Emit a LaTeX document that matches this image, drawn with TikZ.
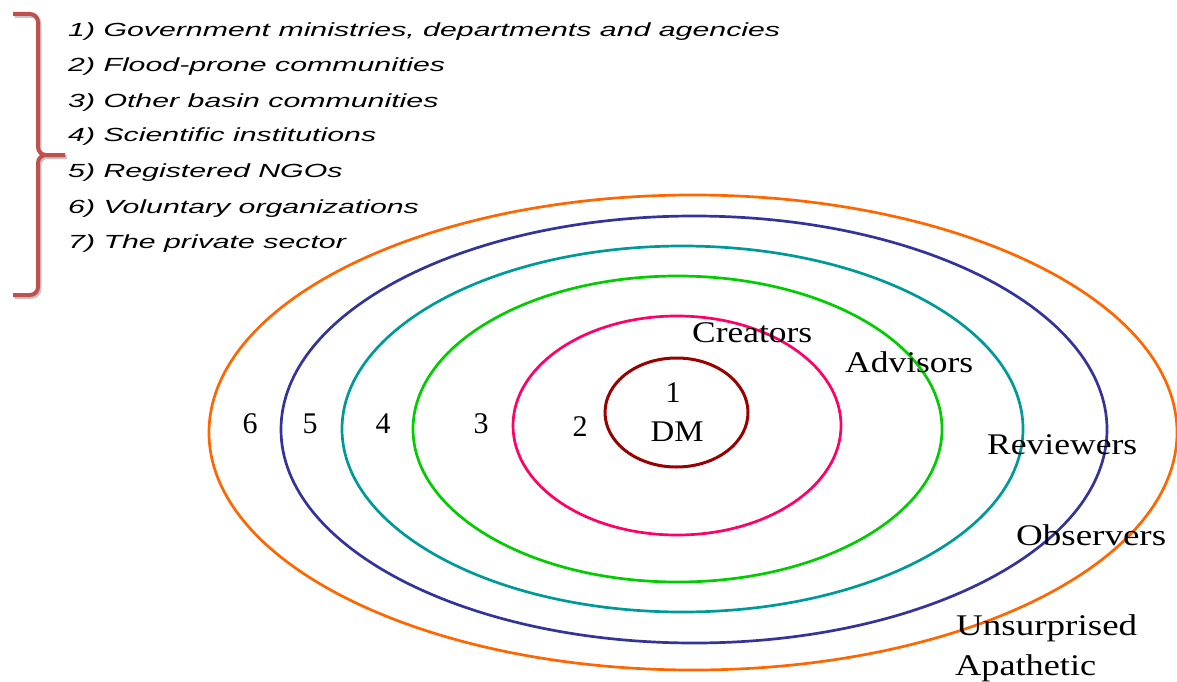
\documentclass[tikz,border=0pt]{standalone}
\usepackage{fontspec}
\setmainfont{Liberation Serif}
\newfontfamily\listfont{Liberation Sans}
\usepackage{graphicx}
\newlength\LineOneW
\definecolor{ringsix}{HTML}{FF6600}
\definecolor{ringfive}{HTML}{333399}
\definecolor{ringfour}{HTML}{009999}
\definecolor{ringthree}{HTML}{00CC00}
\definecolor{ringtwo}{HTML}{FF0066}
\definecolor{ringone}{HTML}{990000}
\definecolor{bracered}{HTML}{C0504D}
\tikzset{
  ring/.style={line width=2.7pt},
  bracepath/.style={draw=bracered, line width=4pt, rounded corners=8pt},
  braceshadow/.style={draw=black!22, line width=4pt, rounded corners=8pt},
  listitem/.style={anchor=base west, inner sep=0pt, font=\listfont\itshape\fontsize{19}{23}\selectfont},
  lab/.style={anchor=base west, inner sep=0pt, font=\fontsize{30}{36}\selectfont},
  digit/.style={anchor=base, inner sep=0pt, font=\fontsize{30}{36}\selectfont}
}
\begin{document}
\settowidth\LineOneW{\listfont\itshape\fontsize{19}{23}\selectfont 1) Government ministries, departments and agencies}%
\pgfmathsetmacro\lsx{712/\LineOneW}%
\begin{tikzpicture}[x=1pt,y=-1pt]
\useasboundingbox (0,0) rectangle (1177,682);

% brace
\begin{scope}[shift={(1.5,2)}]
\draw[braceshadow] (13,14) -- (38,14) -- (38,155) -- (65,155);
\draw[braceshadow] (13,295) -- (38,295) -- (38,155) -- (65,155);
\end{scope}
\draw[bracepath] (13,14) -- (38,14) -- (38,155) -- (65,155);
\draw[bracepath] (13,295) -- (38,295) -- (38,155) -- (65,155);

% list
\node[listitem] (l1) at (68,37)  {\scalebox{\lsx}[1]{1) Government ministries, departments and agencies}};
\node[listitem] (l2) at (68,72)  {\scalebox{\lsx}[1]{2) Flood-prone communities}};
\node[listitem] (l3) at (68,107) {\scalebox{\lsx}[1]{3) Other basin communities}};
\node[listitem] (l4) at (68,142) {\scalebox{\lsx}[1]{4) Scientific institutions}};
\node[listitem] (l5) at (68,177) {\scalebox{\lsx}[1]{5) Registered NGOs}};
\node[listitem] (l6) at (68,213) {\scalebox{\lsx}[1]{6) Voluntary organizations}};
\node[listitem] (l7) at (68,248) {\scalebox{\lsx}[1]{7) The private sector}};

% rings
\draw[ring, ringsix]   (693,432.5) ellipse [x radius=484pt, y radius=237.5pt];
\draw[ring, ringfive]  (694,429.5) ellipse [x radius=413pt, y radius=213.5pt];
\draw[ring, ringfour]  (682.5,429) ellipse [x radius=340.5pt, y radius=183pt];
\draw[ring, ringthree] (677.5,429) ellipse [x radius=264.5pt, y radius=153pt];
\draw[ring, ringtwo]   (677,425.5) ellipse [x radius=164pt, y radius=109.5pt];
\draw[ring, ringone, line width=3pt] (676.5,412.5) ellipse [x radius=71.5pt, y radius=54.5pt];

% digits
\node[digit] (d6) at (250,433) {6};
\node[digit] (d5) at (310,433) {5};
\node[digit] (d4) at (383,433) {4};
\node[digit] (d3) at (481,433) {3};
\node[digit] (d2) at (580,436) {2};
\node[digit] (d1) at (673,402) {1};
\node[digit] (dm) at (677,441) {\resizebox{53pt}{\height}{DM}};

% role labels
\node[lab] (creators)    at (692,342)  {\resizebox{120pt}{\height}{Creators}};
\node[lab] (advisors)    at (845,372)  {\resizebox{128pt}{\height}{Advisors}};
\node[lab] (reviewers)   at (987,454)  {\resizebox{150pt}{\height}{Reviewers}};
\node[lab] (observers)   at (1016,545) {\resizebox{150pt}{\height}{Observers}};
\node[lab] (unsurprised) at (956,635)  {\resizebox{181pt}{\height}{Unsurprised}};
\node[lab] (apathetic)   at (955,675)  {\resizebox{141pt}{\height}{Apathetic}};
\end{tikzpicture}
\end{document}
